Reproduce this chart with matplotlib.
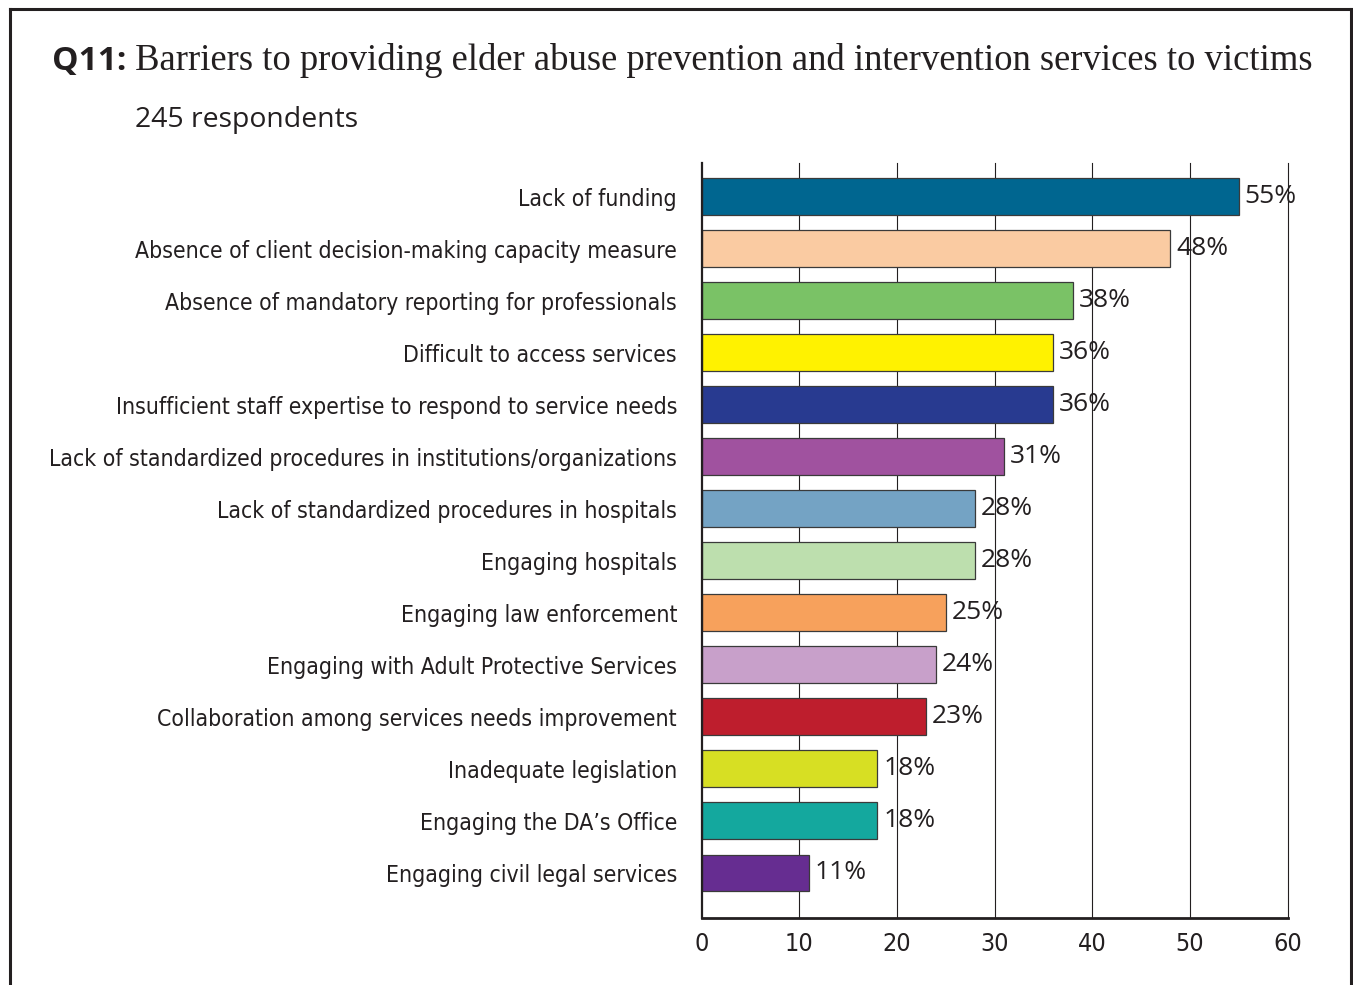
import matplotlib
matplotlib.use("Agg")
import matplotlib.pyplot as plt
from matplotlib.lines import Line2D

# Survey answers, top to bottom
barriers = [
    "Lack of funding",
    "Absence of client decision-making capacity measure",
    "Absence of mandatory reporting for professionals",
    "Difficult to access services",
    "Insufficient staff expertise to respond to service needs",
    "Lack of standardized procedures in institutions/organizations",
    "Lack of standardized procedures in hospitals",
    "Engaging hospitals",
    "Engaging law enforcement",
    "Engaging with Adult Protective Services",
    "Collaboration among services needs improvement",
    "Inadequate legislation",
    "Engaging the DA\u2019s Office",
    "Engaging civil legal services",
]
percent = [55, 48, 38, 36, 36, 31, 28, 28, 25, 24, 23, 18, 18, 11]
bar_colors = ["#006690", "#FACBA2", "#7AC266", "#FFF200", "#283A90", "#A0529F",
              "#74A3C4", "#BDDFAE", "#F7A15C", "#C8A0CA", "#BE1E2D", "#D7DF23",
              "#14A89E", "#662D91"]
x_ticks = [0, 10, 20, 30, 40, 50, 60]

W, H = 1353, 985
fig = plt.figure(figsize=(W / 100, H / 100), dpi=100)

num_font = ["Open Sans", "DejaVu Sans"]

ax = fig.add_axes([701.5 / W, 1 - 918 / H, 586 / W, 755 / H])
pos = list(range(len(barriers)))

for x in x_ticks[1:]:
    ax.axvline(x, color="#231f20", lw=0.8, zorder=1, clip_on=False)

bars = ax.barh(pos, percent, height=0.71, color=bar_colors,
               edgecolor="#3a3a3a", linewidth=0.9, zorder=2)

for bar, p in zip(bars, percent):
    ax.text(bar.get_width() + 0.6, bar.get_y() + bar.get_height() / 2, f"{p}%",
            ha="left", va="center", fontsize=19, family=num_font,
            color="#231f20", zorder=3)

ax.set_xlim(0, 60)
ax.set_ylim(13.865, -0.644)
ax.set_yticks(pos)
ax.set_yticklabels(barriers, family="DejaVu Sans", fontstretch="condensed",
                   fontsize=16.5, color="#231f20")
ax.set_xticks(x_ticks)
ax.set_xticklabels([str(t) for t in x_ticks], family="DejaVu Sans",
                   fontstretch="condensed", fontsize=18, color="#231f20")
ax.tick_params(axis="y", length=0, pad=17.6)
ax.tick_params(axis="x", length=0, pad=10)

for side in ["top", "right"]:
    ax.spines[side].set_visible(False)
ax.spines["left"].set_linewidth(1.6)
ax.spines["bottom"].set_linewidth(2.0)
ax.spines["left"].set_color("#231f20")
ax.spines["bottom"].set_color("#231f20")

# title: bold sans question number followed by serif text
q = fig.text(52 / W, 1 - 70 / H, "Q11:", family=num_font, fontweight="bold",
             fontsize=24, va="baseline", ha="left", color="#231f20")
ax.annotate(" Barriers to providing elder abuse prevention and intervention services to victims",
            xy=(1, H - 70), xycoords=(q, "figure pixels"), va="baseline", ha="left",
            family=["Liberation Serif", "DejaVu Serif"], fontsize=26.4, color="#231f20",
            annotation_clip=False)
fig.text(135 / W, 1 - 127 / H, "245 respondents", family=num_font, fontsize=20.4,
         va="baseline", ha="left", color="#231f20")

# outer frame (open at the bottom)
frame_kw = dict(color="#231f20", lw=2.2, transform=fig.transFigure, solid_capstyle="projecting")
fig.add_artist(Line2D([9.5 / W, 9.5 / W], [0, 1 - 8.5 / H], **frame_kw))
fig.add_artist(Line2D([9.5 / W, 1350.5 / W], [1 - 8.5 / H, 1 - 8.5 / H], **frame_kw))
fig.add_artist(Line2D([1350.5 / W, 1350.5 / W], [0, 1 - 8.5 / H], **frame_kw))

fig.savefig("out.png", dpi=100, facecolor="white")
